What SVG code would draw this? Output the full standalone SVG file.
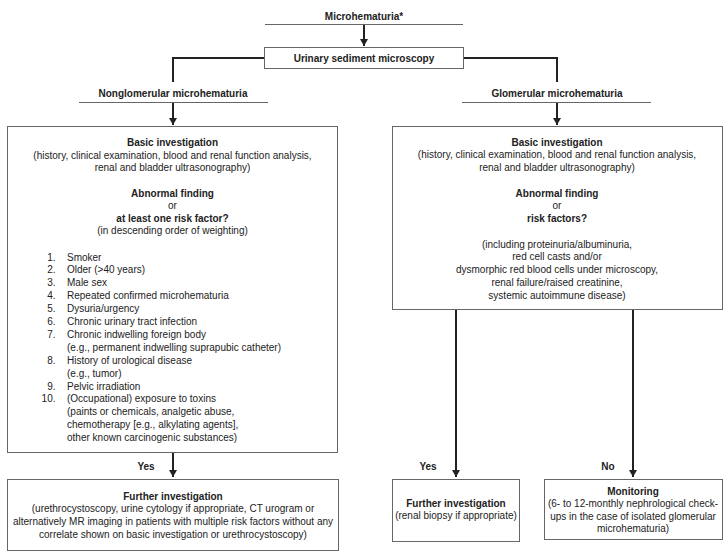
<svg xmlns="http://www.w3.org/2000/svg" width="728" height="555" viewBox="0 0 728 555">
<style>
text{font-family:"Liberation Sans",Arial,sans-serif;font-size:10px;fill:#222}
.c{text-anchor:middle}
.e{text-anchor:end}
.b{font-weight:bold}
.box{fill:#fff;stroke:#666;stroke-width:1}
.ul{stroke:#666;stroke-width:1;fill:none}
.con{stroke:#222;stroke-width:2;fill:none}
</style>
<defs>
<marker id="ah" markerUnits="userSpaceOnUse" markerWidth="8" markerHeight="10" refX="7" refY="4" orient="auto">
<path d="M0,0 L7,4 L0,8 Z" fill="#222"/>
</marker>
</defs>
<g id="connectors">
<line class="ul" x1="265" y1="24.5" x2="463" y2="24.5"/>
<line class="ul" x1="79" y1="102.5" x2="268" y2="102.5"/>
<line class="ul" x1="462" y1="102.5" x2="651" y2="102.5"/>
<line class="con" x1="364" y1="25" x2="364" y2="46" marker-end="url(#ah)"/>
<path class="con" d="M264,58 H173 V82"/>
<path class="con" d="M463,58 H557 V82"/>
<line class="con" x1="173" y1="103" x2="173" y2="125" marker-end="url(#ah)"/>
<line class="con" x1="557" y1="103" x2="557" y2="125" marker-end="url(#ah)"/>
<line class="con" x1="173" y1="452" x2="173" y2="477" marker-end="url(#ah)"/>
<line class="con" x1="456" y1="309" x2="456" y2="477" marker-end="url(#ah)"/>
<line class="con" x1="633" y1="309" x2="633" y2="477" marker-end="url(#ah)"/>
<text class="c b" x="146" y="469.5">Yes</text>
<text class="c b" x="428" y="469.5">Yes</text>
<text class="c b" x="608" y="469.5">No</text>
</g>
<g id="microhematuria">
<text class="c b" x="364" y="19.5">Microhematuria*</text>
</g>
<g id="sediment">
<rect class="box" x="264.5" y="47.5" width="199" height="21"/>
<text class="c b" x="364" y="61.5">Urinary sediment microscopy</text>
</g>
<g id="nonglomerular">
<text class="c b" x="173" y="97">Nonglomerular microhematuria</text>
</g>
<g id="glomerular">
<text class="c b" x="557" y="97">Glomerular microhematuria</text>
</g>
<g id="left-basic">
<rect class="box" x="7.5" y="126.5" width="330" height="326"/>
<text class="c b" x="172.5" y="145.5">Basic investigation</text>
<text class="c" x="172.5" y="158.5">(history, clinical examination, blood and renal function analysis,</text>
<text class="c" x="172.5" y="170.5">renal and bladder ultrasonography)</text>
<text class="c b" x="172.5" y="196.5">Abnormal finding</text>
<text class="c" x="172.5" y="209">or</text>
<text class="c b" x="172.5" y="221.5">at least one risk factor?</text>
<text class="c" x="172.5" y="233.5">(in descending order of weighting)</text>
<text class="e" x="55.5" y="260.5">1.</text><text x="67" y="260.5">Smoker</text>
<text class="e" x="55.5" y="273.4">2.</text><text x="67" y="273.4">Older (&gt;40 years)</text>
<text class="e" x="55.5" y="286.3">3.</text><text x="67" y="286.3">Male sex</text>
<text class="e" x="55.5" y="299.2">4.</text><text x="67" y="299.2">Repeated confirmed microhematuria</text>
<text class="e" x="55.5" y="312.1">5.</text><text x="67" y="312.1">Dysuria/urgency</text>
<text class="e" x="55.5" y="325">6.</text><text x="67" y="325">Chronic urinary tract infection</text>
<text class="e" x="55.5" y="337.9">7.</text><text x="67" y="337.9">Chronic indwelling foreign body</text>
<text x="67" y="350.8">(e.g., permanent indwelling suprapubic catheter)</text>
<text class="e" x="55.5" y="363.7">8.</text><text x="67" y="363.7">History of urological disease</text>
<text x="67" y="376.6">(e.g., tumor)</text>
<text class="e" x="55.5" y="389.5">9.</text><text x="67" y="389.5">Pelvic irradiation</text>
<text class="e" x="55.5" y="402.4">10.</text><text x="67" y="402.4">(Occupational) exposure to toxins</text>
<text x="67" y="415.3">(paints or chemicals, analgetic abuse,</text>
<text x="67" y="428.2">chemotherapy [e.g., alkylating agents],</text>
<text x="67" y="441.1">other known carcinogenic substances)</text>
</g>
<g id="right-basic">
<rect class="box" x="392.5" y="126.5" width="330" height="183"/>
<text class="c b" x="557" y="145.5">Basic investigation</text>
<text class="c" x="557" y="158">(history, clinical examination, blood and renal function analysis,</text>
<text class="c" x="557" y="170.5">renal and bladder ultrasonography)</text>
<text class="c b" x="557" y="196.5">Abnormal finding</text>
<text class="c" x="557" y="209">or</text>
<text class="c b" x="557" y="221.5">risk factors?</text>
<text class="c" x="557" y="247.5">(including proteinuria/albuminuria,</text>
<text class="c" x="557" y="260.3">red cell casts and/or</text>
<text class="c" x="557" y="273">dysmorphic red blood cells under microscopy,</text>
<text class="c" x="557" y="285.8">renal failure/raised creatinine,</text>
<text class="c" x="557" y="298.5">systemic autoimmune disease)</text>
</g>
<g id="left-further">
<rect class="box" x="7.5" y="479.5" width="331" height="71"/>
<text class="c b" x="173" y="499.5">Further investigation</text>
<text class="c" x="173" y="512.2">(urethrocystoscopy, urine cytology if appropriate, CT urogram or</text>
<text class="c" x="173" y="524.9">alternatively MR imaging in patients with multiple risk factors without any</text>
<text class="c" x="173" y="537.6">correlate shown on basic investigation or urethrocystoscopy)</text>
</g>
<g id="right-further">
<rect class="box" x="392.5" y="479.5" width="127" height="62"/>
<text class="c b" x="456" y="506.5">Further investigation</text>
<text class="c" x="456" y="518.5">(renal biopsy if appropriate)</text>
</g>
<g id="monitoring">
<rect class="box" x="544.5" y="479.5" width="178" height="60"/>
<text class="c b" x="633" y="494.5">Monitoring</text>
<text class="c" x="633" y="507">(6- to 12-monthly nephrological check-</text>
<text class="c" x="633" y="519.5">ups in the case of isolated glomerular</text>
<text class="c" x="633" y="532">microhematuria)</text>
</g>
</svg>
